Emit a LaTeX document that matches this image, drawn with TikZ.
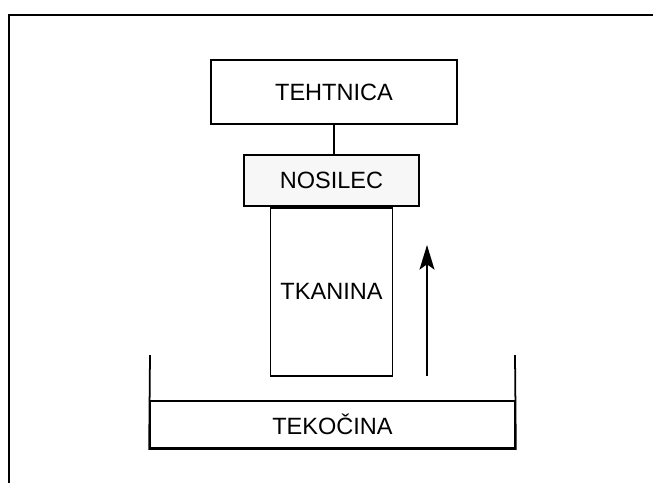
\documentclass[tikz,border=0pt]{standalone}
\usepackage{fontspec}
\setmainfont{Liberation Sans}
\usetikzlibrary{positioning, arrows.meta}

\begin{document}
\begin{tikzpicture}[
    x=0.02cm, y=-0.02cm,
    line width=1pt,
    box/.style={draw, rectangle, line width=1pt, align=center, font=\fontsize{13.4}{16}\selectfont},
    holder/.style={box, fill=gray!6},
    fluid/.style={box, minimum width=7.3cm, minimum height=0.94cm}
]
    \useasboundingbox (0,0) rectangle (653,485);

    % frame
    \draw (653,15) -- (9,15) -- (9,483);

    % scale and holder
    \node[box, minimum width=4.92cm, minimum height=1.28cm] (tehtnica) at (334,92) {TEHTNICA};
    \node[holder, minimum width=3.5cm, minimum height=1.02cm] (nosilec) at (331.5,180.5) {NOSILEC};
    \draw (tehtnica.south) -- (tehtnica.south |- nosilec.north);

    % fabric sample
    \node[box, minimum width=2.44cm, minimum height=3.36cm] (tkanina) [below=0pt of nosilec] {TKANINA};

    % liquid in the vessel
    \node[fluid] (tekocina) at (332.5,424.5) {TEKOČINA};
    \coordinate (wallL) at (150,355);
    \coordinate (wallR) at (515,355);
    \draw (wallL) -- (tekocina.south west) -- (tekocina.south east) -- (wallR);

    % rise direction
    \coordinate (riseA) at (427,376);
    \coordinate (riseB) at (427,245);
    \draw[-{Stealth[length=14pt, width=8.5pt, inset=3pt]}] (riseA) -- (riseB);

\end{tikzpicture}
\end{document}
